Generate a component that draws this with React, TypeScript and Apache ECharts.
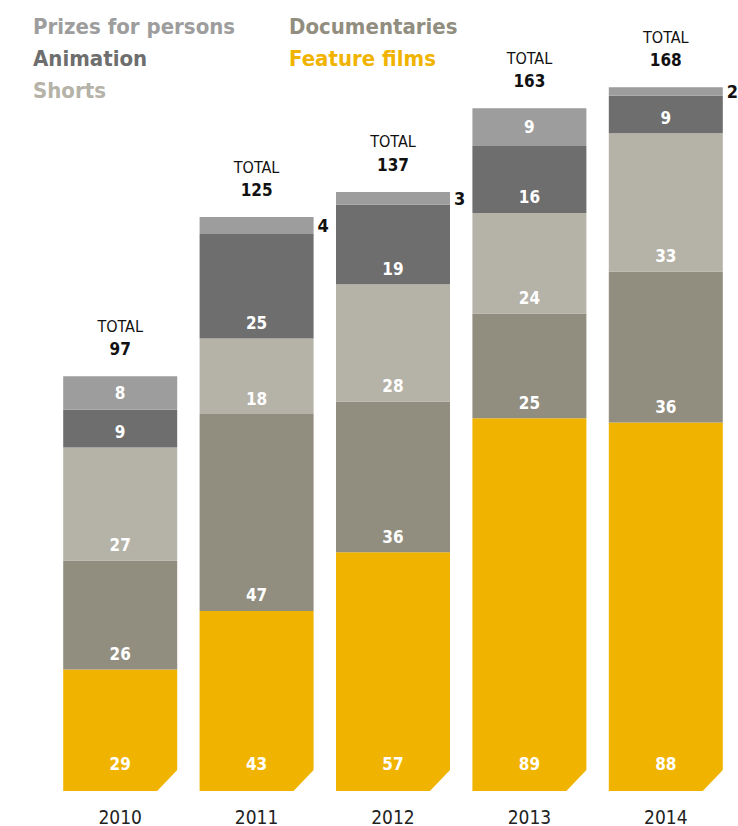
import React, { useEffect, useRef } from "react";
import * as echarts from "echarts";

const years = ["2010", "2011", "2012", "2013", "2014"];
const featureFilms = [29, 43, 57, 89, 88];
const documentaries = [26, 47, 36, 25, 36];
const shorts = [27, 18, 28, 24, 33];
const animation = [9, 25, 19, 16, 9];
const prizes = [8, 4, 3, 9, 2];
const totals = [97, 125, 137, 163, 168];

const FONT = "'Liberation Sans Narrow', 'DejaVu Sans Condensed', 'Roboto', sans-serif";
const C_FF = "#F0B400";
const C_DOC = "#918E80";
const C_SH = "#B5B2A8";
const C_AN = "#6E6E6E";
const C_PR = "#9D9D9D";

export default function App() {
  const ref = useRef<HTMLDivElement>(null);
  useEffect(() => {
    if (!ref.current) return;
    const chart = echarts.init(ref.current, undefined, { renderer: "svg" });
    const inLabel = (dist: number) => ({
      show: true,
      position: "insideBottom" as const,
      distance: dist,
      color: "#fff",
      fontFamily: FONT,
      fontWeight: "bold" as const,
      fontSize: 17,
    });
    const barBase = {
      type: "bar" as const,
      stack: "all",
      barWidth: 114,
      emphasis: { disabled: true },
    };
    const stackTop = years.map(
      (_, i) => featureFilms[i] + documentaries[i] + shorts[i] + animation[i] + prizes[i]
    );
    const legendFont = `bold 22px ${FONT}`;
    chart.setOption({
      animation: false,
      grid: { left: 52, right: 4, top: 37, bottom: 34 },
      xAxis: {
        type: "category",
        data: years,
        axisLine: { show: false },
        axisTick: { show: false },
        axisLabel: { color: "#222", fontFamily: FONT, fontSize: 19, margin: 16 },
      },
      yAxis: { type: "value", min: 0, max: 180, show: false, splitLine: { show: false } },
      graphic: [
        { type: "text", left: 33, top: 15, style: { text: "Prizes for persons", fill: C_PR, font: legendFont } },
        { type: "text", left: 33, top: 47, style: { text: "Animation", fill: C_AN, font: legendFont } },
        { type: "text", left: 33, top: 79, style: { text: "Shorts", fill: C_SH, font: legendFont } },
        { type: "text", left: 289, top: 15, style: { text: "Documentaries", fill: C_DOC, font: legendFont } },
        { type: "text", left: 289, top: 47, style: { text: "Feature films", fill: C_FF, font: legendFont } },
      ],
      series: [
        { ...barBase, name: "Feature films", data: featureFilms, itemStyle: { color: C_FF }, label: inLabel(19) },
        { ...barBase, name: "Documentaries", data: documentaries, itemStyle: { color: C_DOC }, label: inLabel(7) },
        { ...barBase, name: "Shorts", data: shorts, itemStyle: { color: C_SH }, label: inLabel(7) },
        { ...barBase, name: "Animation", data: animation, itemStyle: { color: C_AN }, label: inLabel(7) },
        {
          ...barBase,
          name: "Prizes for persons",
          itemStyle: { color: C_PR },
          data: prizes.map((v) =>
            v < 5
              ? {
                  value: v,
                  label: {
                    show: true,
                    position: "right",
                    distance: 4,
                    color: "#111",
                    fontFamily: FONT,
                    fontWeight: "bold",
                    fontSize: 18,
                  },
                }
              : { value: v, label: { ...inLabel(7), position: "inside" } }
          ),
        },
        {
          type: "custom",
          name: "corner",
          silent: true,
          z: 5,
          data: years.map((_, i) => [i, 0]),
          renderItem: (params: any, api: any) => {
            const p = api.coord([api.value(0), 0]);
            const half = 57;
            const x = p[0] + half;
            const y = p[1];
            return {
              type: "polygon",
              shape: { points: [[x + 1, y - 22], [x + 1, y + 1], [x - 21, y + 1]] },
              style: { fill: "#fff" },
            };
          },
        },
        {
          type: "custom",
          name: "totals",
          silent: true,
          z: 6,
          data: years.map((_, i) => [i, stackTop[i], totals[i]]),
          renderItem: (params: any, api: any) => {
            const p = api.coord([api.value(0), api.value(1)]);
            return {
              type: "group",
              children: [
                {
                  type: "text",
                  x: p[0],
                  y: p[1] - 50,
                  style: {
                    text: "TOTAL",
                    fill: "#111",
                    font: `16px ${FONT}`,
                    align: "center",
                    verticalAlign: "middle",
                  },
                },
                {
                  type: "text",
                  x: p[0],
                  y: p[1] - 27,
                  style: {
                    text: String(api.value(2)),
                    fill: "#111",
                    font: `bold 17px ${FONT}`,
                    align: "center",
                    verticalAlign: "middle",
                  },
                },
              ],
            };
          },
        },
      ],
    });
    return () => chart.dispose();
  }, []);
  return (
    <div
      ref={ref}
      style={{ position: "absolute", left: 0, top: 0, width: 738, height: 826 }}
    />
  );
}
